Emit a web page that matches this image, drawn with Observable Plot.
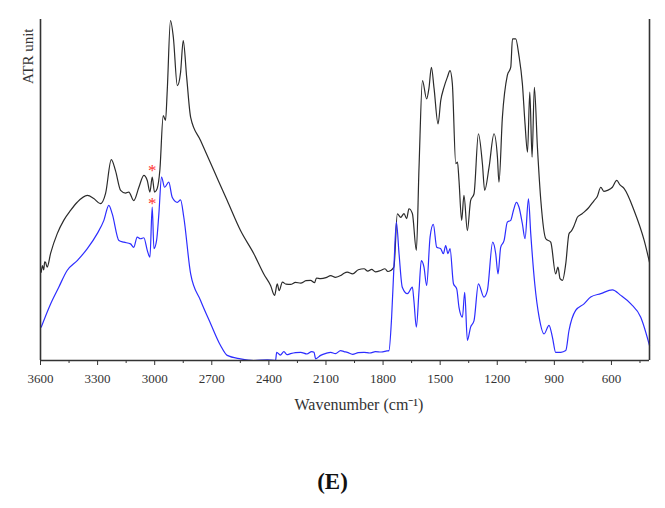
<!DOCTYPE html>
<html>
<head>
<meta charset="utf-8">
<script src="https://cdn.jsdelivr.net/npm/d3@7"></script>
<script src="https://cdn.jsdelivr.net/npm/@observablehq/plot@0.6"></script>
<style>
  html, body { margin: 0; padding: 0; background: #fff; }
  #label { width: 665px; text-align: center; font-family: "Liberation Serif", serif; font-weight: bold; font-size: 23px; line-height: 26px; padding-top: 39px; color: #111; }
</style>
</head>
<body>
<div id="chart"></div>
<div id="label">(E)</div>
<script>
// Black spectrum (upper)
const wnBlack = [3596,3590,3583,3578,3574,3565,3547,3512,3478,3442,3407,3354,3320,3285,3258,3228,3206,3179,3153,3136,3110,3083,3057,3039,3025,3013,3001,2987,2973,2955,2943,2934,2917,2902,2881,2864,2850,2832,2811,2759,2689,2619,2549,2479,2426,2391,2370,2356,2346,2329,2310,2286,2260,2233,2205,2181,2160,2150,2128,2100,2075,2050,2023,2005,1988,1960,1930,1900,1880,1860,1840,1813,1790,1775,1760,1743,1725,1707,1690,1676,1664,1646,1625,1611,1593,1571,1559,1546,1532,1511,1497,1480,1462,1448,1436,1418,1409,1401,1387,1375,1357,1340,1322,1299,1278,1266,1243,1217,1199,1191,1173,1147,1129,1120,1103,1086,1068,1054,1041,1029,1017,1005,989,971,945,919,893,881,870,857,840,823,810,798,785,779,760,744,720,691,675,656,640,621,595,572,555,533,481,428,400];
const atrBlack = [25.9,27.8,26.6,28.9,28.8,27.4,31.4,37.2,41.1,44.0,46.4,48.4,47.5,46.0,49.0,58.9,55.7,49.9,49.1,49.4,46.9,50.8,54.3,52.8,49.4,53.8,49.4,50.4,55.7,71.8,70.4,79.2,99.7,94.8,80.6,84.5,93.8,83.1,71.3,64.5,55.7,46.9,38.1,31.3,25.3,22.0,19.1,22.5,20.5,23.0,22.4,22.3,22.9,22.7,23.4,23.5,22.8,24.2,24.0,24.3,24.9,24.4,24.9,25.6,25.9,25.4,26.6,26.9,26.2,26.7,26.0,26.4,26.9,26.1,26.4,27.4,43.0,42.0,43.1,41.6,44.5,43.1,32.3,56.7,82.1,76.7,79.8,86.0,79.8,69.4,76.2,80.1,83.1,85.0,81.2,57.7,58.2,52.8,41.1,48.4,38.1,46.9,48.9,66.5,57.7,49.9,56.7,66.5,59.6,52.3,71.3,83.6,86.0,94.3,94.3,89.4,81.2,69.4,61.1,78.7,59.6,80.1,62.6,46.9,35.7,34.7,25.4,27.4,24.0,23.5,28.4,37.2,38.0,39.3,41.2,42.0,42.8,43.5,44.8,46.9,48.0,50.8,49.6,49.9,50.8,52.8,51.5,50.4,44.0,35.2,28.8];

// Blue spectrum (lower)
const wnBlue = [3596,3547,3504,3460,3407,3354,3302,3267,3241,3223,3188,3162,3127,3110,3092,3074,3057,3039,3025,3013,3004,2990,2978,2964,2948,2926,2908,2881,2864,2847,2811,2759,2706,2654,2619,2549,2479,2408,2365,2359,2340,2321,2305,2286,2260,2233,2200,2175,2163,2154,2128,2100,2075,2050,2023,2005,1988,1960,1930,1900,1870,1840,1810,1780,1769,1755,1743,1730,1716,1699,1672,1646,1638,1625,1611,1599,1585,1571,1553,1536,1518,1497,1483,1471,1459,1448,1430,1413,1401,1383,1371,1357,1340,1322,1299,1270,1252,1224,1208,1196,1182,1164,1147,1129,1115,1099,1086,1068,1054,1036,1024,1003,980,954,928,910,893,866,840,823,788,744,709,656,595,551,498,446,400];
const atrBlue = [9.8,16.6,21.5,26.4,29.3,32.8,37.2,41.1,45.5,43.0,35.2,34.7,34.2,33.2,36.2,35.7,36.0,32.3,30.3,45.0,32.8,35.2,43.0,53.8,50.8,52.3,47.9,46.4,47.1,42.0,25.4,17.6,10.8,4.4,1.5,0.5,0.0,0.2,0.0,2.4,1.6,2.6,1.7,2.0,2.3,2.4,1.9,2.6,2.4,0.5,1.5,2.1,2.4,2.0,2.9,2.6,2.4,1.8,2.3,2.4,2.2,2.6,2.5,2.8,2.9,12.7,27.4,40.6,31.3,21.5,19.6,21.5,17.6,9.8,20.5,29.3,27.4,22.0,36.2,39.9,33.2,32.8,31.3,33.7,31.3,32.8,22.5,21.0,15.6,12.7,20.0,5.9,9.8,11.7,22.5,18.6,20.5,34.7,31.3,25.4,33.2,35.2,40.6,41.1,44.0,46.4,45.0,40.1,35.7,47.4,37.2,22.5,12.7,7.8,10.3,6.8,2.4,2.4,2.9,8.8,14.7,16.6,18.6,19.6,20.7,19.1,16.6,12.7,4.4];

// Asterisk markers
const starWn = [3013, 3013];
const starAtr = [56.9, 47.2];

const xTicks = [3600, 3300, 3000, 2700, 2400, 2100, 1800, 1500, 1200, 900, 600];
const xMinor = [3450, 3150, 2850, 2550, 2250, 1950, 1650, 1350, 1050, 750, 450];
const xDomain = [3600, 400];

const black = wnBlack.map((w, i) => ({w, a: atrBlack[i]}));
const blue = wnBlue.map((w, i) => ({w, a: atrBlue[i]}));
const stars = starWn.map((w, i) => ({w, a: starAtr[i]}));

const chart = Plot.plot({
  width: 665,
  height: 430,
  marginLeft: 40,
  marginRight: 16,
  marginTop: 19,
  marginBottom: 70,
  x: {domain: xDomain},
  y: {domain: [0, 100], axis: null},
  style: {fontFamily: "'Liberation Serif', serif", fontSize: "13px", color: "#333", background: "#fff"},
  marks: [
    Plot.axisX({ticks: xTicks, tickSize: 5, tickPadding: 8, tickFormat: "d", label: null, stroke: "#333"}),
    Plot.axisX({ticks: xMinor, tickSize: 3, tickFormat: () => "", label: null, stroke: "#333"}),
    Plot.line(black, {x: "w", y: "a", stroke: "#2b2b2b", strokeWidth: 1.2, curve: "monotone-x"}),
    Plot.line(blue, {x: "w", y: "a", stroke: "#2d2dff", strokeWidth: 1.2, curve: "monotone-x"}),
    Plot.ruleY([0], {stroke: "#333", strokeWidth: 1.6}),
    Plot.ruleX(xDomain, {stroke: "#333", strokeWidth: 1.6}),
    Plot.text(stars, {x: "w", y: "a", text: () => "*", fill: "#ff3030", fontSize: 17, dy: 4}),
    Plot.text(["ATR unit"], {frameAnchor: "top-left", rotate: -90, textAnchor: "end", dx: -18, dy: 9, fontSize: 15, fill: "#333"}),
    Plot.text(["Wavenumber (cm⁻¹)"], {frameAnchor: "bottom", dx: 14, dy: 49, fontSize: 16, fill: "#333"})
  ]
});
document.getElementById("chart").appendChild(chart);
</script>
</body>
</html>
